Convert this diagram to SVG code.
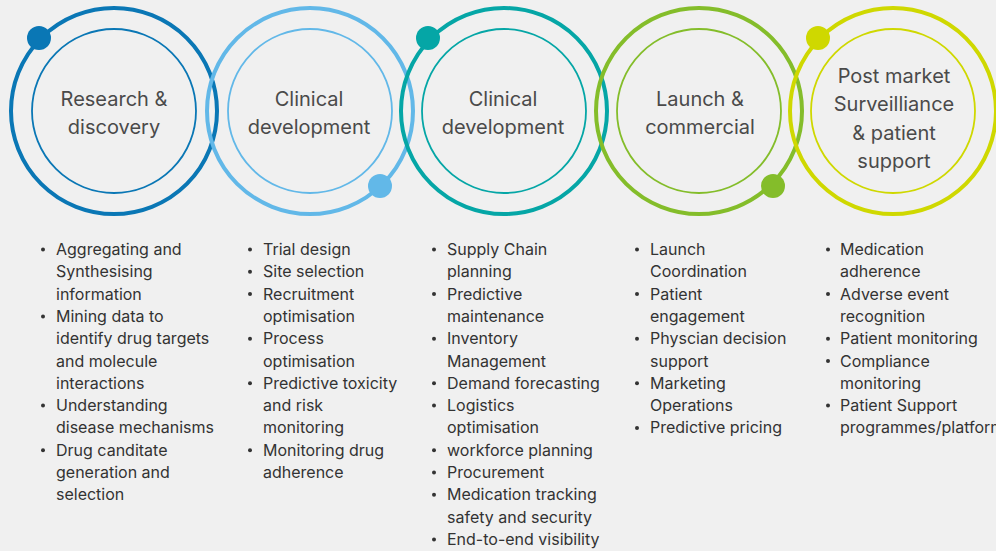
<svg xmlns="http://www.w3.org/2000/svg" width="996" height="551" viewBox="0 0 996 551">
<style>
.outer{fill:none;stroke-width:4}
.inner{fill:none;stroke-width:1.8}
.lbl{font-family:Inter,"Noto Sans","Liberation Sans",sans-serif;font-size:20px;fill:#4a4a4a;text-anchor:middle}
.bt{font-family:Inter,"Noto Sans","Liberation Sans",sans-serif;font-size:16px;fill:#333333}
.bd{fill:#333333}
</style>
<rect width="996" height="551" fill="#f0f0f0"/>
<g id="stage1">
<circle class="outer" cx="114" cy="111" r="103" stroke="#0a77b5"/>
<circle class="inner" cx="114" cy="111" r="82" stroke="#0a77b5"/>
<circle cx="39" cy="38" r="12" fill="#0a77b5"/>
<text class="lbl" x="114" y="106">Research &amp;</text>
<text class="lbl" x="114" y="134">discovery</text>
</g>
<g id="stage2">
<circle class="outer" cx="310" cy="111" r="103" stroke="#62b8e8"/>
<circle class="inner" cx="310" cy="111" r="82" stroke="#62b8e8"/>
<circle cx="380" cy="186" r="12" fill="#62b8e8"/>
<text class="lbl" x="309" y="106">Clinical</text>
<text class="lbl" x="309" y="134">development</text>
</g>
<g id="stage3">
<circle class="outer" cx="504" cy="111" r="103" stroke="#05a6a6"/>
<circle class="inner" cx="504" cy="111" r="82" stroke="#05a6a6"/>
<circle cx="428" cy="38" r="12" fill="#05a6a6"/>
<text class="lbl" x="503" y="106">Clinical</text>
<text class="lbl" x="503" y="134">development</text>
</g>
<g id="stage4">
<circle class="outer" cx="699" cy="111" r="103" stroke="#84bd2a"/>
<circle class="inner" cx="699" cy="111" r="82" stroke="#84bd2a"/>
<circle cx="773" cy="186" r="12" fill="#84bd2a"/>
<text class="lbl" x="700" y="106">Launch &amp;</text>
<text class="lbl" x="700" y="134">commercial</text>
</g>
<g id="stage5">
<circle class="outer" cx="893" cy="111" r="103" stroke="#cfd800"/>
<circle class="inner" cx="893" cy="111" r="82" stroke="#cfd800"/>
<circle cx="818" cy="38" r="12" fill="#cfd800"/>
<text class="lbl" x="894" y="83">Post market</text>
<text class="lbl" x="894" y="111">Surveilliance</text>
<text class="lbl" x="894" y="140">&amp; patient</text>
<text class="lbl" x="894" y="168">support</text>
</g>
<g id="connectors"></g>
<g id="list1">
<g class="bd"><circle cx="43" cy="249.5" r="2"/><circle cx="43" cy="316.4" r="2"/><circle cx="43" cy="405.6" r="2"/><circle cx="43" cy="450.2" r="2"/></g>
<text class="bt" x="56" y="255">Aggregating and</text>
<text class="bt" x="56" y="277.3">Synthesising</text>
<text class="bt" x="56" y="299.6">information</text>
<text class="bt" x="56" y="321.9">Mining data to</text>
<text class="bt" x="56" y="344.2">identify drug targets</text>
<text class="bt" x="56" y="366.5">and molecule</text>
<text class="bt" x="56" y="388.8">interactions</text>
<text class="bt" x="56" y="411.1">Understanding</text>
<text class="bt" x="56" y="433.4">disease mechanisms</text>
<text class="bt" x="56" y="455.7">Drug canditate</text>
<text class="bt" x="56" y="478">generation and</text>
<text class="bt" x="56" y="500.3">selection</text>
</g>
<g id="list2">
<g class="bd"><circle cx="250" cy="249.5" r="2"/><circle cx="250" cy="271.8" r="2"/><circle cx="250" cy="294.1" r="2"/><circle cx="250" cy="338.7" r="2"/><circle cx="250" cy="383.3" r="2"/><circle cx="250" cy="450.2" r="2"/></g>
<text class="bt" x="263" y="255">Trial design</text>
<text class="bt" x="263" y="277.3">Site selection</text>
<text class="bt" x="263" y="299.6">Recruitment</text>
<text class="bt" x="263" y="321.9">optimisation</text>
<text class="bt" x="263" y="344.2">Process</text>
<text class="bt" x="263" y="366.5">optimisation</text>
<text class="bt" x="263" y="388.8">Predictive toxicity</text>
<text class="bt" x="263" y="411.1">and risk</text>
<text class="bt" x="263" y="433.4">monitoring</text>
<text class="bt" x="263" y="455.7">Monitoring drug</text>
<text class="bt" x="263" y="478">adherence</text>
</g>
<g id="list3">
<g class="bd"><circle cx="434" cy="249.5" r="2"/><circle cx="434" cy="294.1" r="2"/><circle cx="434" cy="338.7" r="2"/><circle cx="434" cy="383.3" r="2"/><circle cx="434" cy="405.6" r="2"/><circle cx="434" cy="450.2" r="2"/><circle cx="434" cy="472.5" r="2"/><circle cx="434" cy="494.8" r="2"/><circle cx="434" cy="539.4" r="2"/></g>
<text class="bt" x="447" y="255">Supply Chain</text>
<text class="bt" x="447" y="277.3">planning</text>
<text class="bt" x="447" y="299.6">Predictive</text>
<text class="bt" x="447" y="321.9">maintenance</text>
<text class="bt" x="447" y="344.2">Inventory</text>
<text class="bt" x="447" y="366.5">Management</text>
<text class="bt" x="447" y="388.8">Demand forecasting</text>
<text class="bt" x="447" y="411.1">Logistics</text>
<text class="bt" x="447" y="433.4">optimisation</text>
<text class="bt" x="447" y="455.7">workforce planning</text>
<text class="bt" x="447" y="478">Procurement</text>
<text class="bt" x="447" y="500.3">Medication tracking</text>
<text class="bt" x="447" y="522.6">safety and security</text>
<text class="bt" x="447" y="544.9">End-to-end visibility</text>
</g>
<g id="list4">
<g class="bd"><circle cx="637" cy="249.5" r="2"/><circle cx="637" cy="294.1" r="2"/><circle cx="637" cy="338.7" r="2"/><circle cx="637" cy="383.3" r="2"/><circle cx="637" cy="427.9" r="2"/></g>
<text class="bt" x="650" y="255">Launch</text>
<text class="bt" x="650" y="277.3">Coordination</text>
<text class="bt" x="650" y="299.6">Patient</text>
<text class="bt" x="650" y="321.9">engagement</text>
<text class="bt" x="650" y="344.2">Physcian decision</text>
<text class="bt" x="650" y="366.5">support</text>
<text class="bt" x="650" y="388.8">Marketing</text>
<text class="bt" x="650" y="411.1">Operations</text>
<text class="bt" x="650" y="433.4">Predictive pricing</text>
</g>
<g id="list5">
<g class="bd"><circle cx="828" cy="249.5" r="2"/><circle cx="828" cy="294.1" r="2"/><circle cx="828" cy="338.7" r="2"/><circle cx="828" cy="361" r="2"/><circle cx="828" cy="405.6" r="2"/></g>
<text class="bt" x="840" y="255">Medication</text>
<text class="bt" x="840" y="277.3">adherence</text>
<text class="bt" x="840" y="299.6">Adverse event</text>
<text class="bt" x="840" y="321.9">recognition</text>
<text class="bt" x="840" y="344.2">Patient monitoring</text>
<text class="bt" x="840" y="366.5">Compliance</text>
<text class="bt" x="840" y="388.8">monitoring</text>
<text class="bt" x="840" y="411.1">Patient Support</text>
<text class="bt" x="840" y="433.4">programmes/platform</text>
</g>
</svg>
